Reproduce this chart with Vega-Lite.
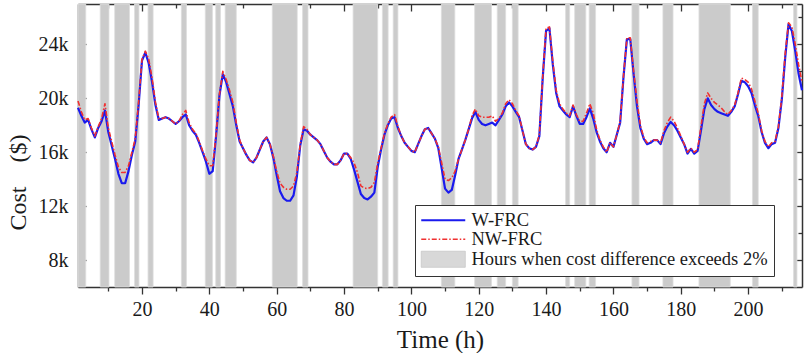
{
  "$schema": "https://vega.github.io/schema/vega-lite/v6.json",
  "width": 724,
  "height": 283,
  "autosize": {"type": "none"},
  "padding": {"left": 78, "top": 4, "right": 6, "bottom": 66},
  "background": "white",
  "view": {"stroke": null},
  "config": {
    "axis": {"grid": false, "domainColor": "#333", "tickColor": "#333", "domainWidth": 1.5, "tickWidth": 1.3, "zindex": 1, "labelFont": "Liberation Serif", "titleFont": "Liberation Serif", "labelColor": "#1a1a1a", "titleColor": "#1a1a1a", "titleFontWeight": "normal"}
  },
  "datasets": {
    "bands": [
      {"s": 1, "e": 3.3}, {"s": 7.6, "e": 10.2}, {"s": 11.9, "e": 16.3}, {"s": 17.8, "e": 19.1},
      {"s": 21.8, "e": 23.3}, {"s": 31.7, "e": 33.2}, {"s": 38.8, "e": 40.9}, {"s": 41.9, "e": 43.3},
      {"s": 44.7, "e": 48}, {"s": 58.7, "e": 66.1}, {"s": 67.7, "e": 69.3}, {"s": 82.7, "e": 90},
      {"s": 91.4, "e": 93.1}, {"s": 94.6, "e": 96}, {"s": 108.9, "e": 112.9}, {"s": 118.8, "e": 123.8},
      {"s": 125.5, "e": 128}, {"s": 130, "e": 131.7}, {"s": 145.8, "e": 147}, {"s": 148.5, "e": 151.8},
      {"s": 152.8, "e": 154.7}, {"s": 165.5, "e": 167.6}, {"s": 174.7, "e": 177.7}, {"s": 185.4, "e": 194.7},
      {"s": 201.3, "e": 203}, {"s": 213.5, "e": 214.5}
    ],
    "rows": [
      {"h":1,"W-FRC":19300,"NW-FRC":19800},{"h":2,"W-FRC":18700,"NW-FRC":19000},{"h":3,"W-FRC":18200,"NW-FRC":18400},{"h":4,"W-FRC":18400,"NW-FRC":18500},
      {"h":5,"W-FRC":17700,"NW-FRC":17800},{"h":6,"W-FRC":17100,"NW-FRC":17200},{"h":7,"W-FRC":17800,"NW-FRC":17900},{"h":8,"W-FRC":18300,"NW-FRC":18500},
      {"h":9,"W-FRC":19100,"NW-FRC":19600},{"h":10,"W-FRC":17500,"NW-FRC":17800},{"h":11,"W-FRC":16500,"NW-FRC":16800},{"h":12,"W-FRC":15500,"NW-FRC":15800},
      {"h":13,"W-FRC":14400,"NW-FRC":14900},{"h":14,"W-FRC":13700,"NW-FRC":14500},{"h":15,"W-FRC":13700,"NW-FRC":14500},{"h":16,"W-FRC":14600,"NW-FRC":15000},
      {"h":17,"W-FRC":15800,"NW-FRC":16000},{"h":18,"W-FRC":16800,"NW-FRC":17000},{"h":19,"W-FRC":19500,"NW-FRC":19700},{"h":20,"W-FRC":22800,"NW-FRC":22900},
      {"h":21,"W-FRC":23400,"NW-FRC":23500},{"h":22,"W-FRC":22600,"NW-FRC":22900},{"h":23,"W-FRC":21200,"NW-FRC":21500},{"h":24,"W-FRC":19500,"NW-FRC":19700},
      {"h":25,"W-FRC":18400,"NW-FRC":18500},{"h":26,"W-FRC":18500,"NW-FRC":18500},{"h":27,"W-FRC":18600,"NW-FRC":18600},{"h":28,"W-FRC":18500,"NW-FRC":18500},
      {"h":29,"W-FRC":18300,"NW-FRC":18300},{"h":30,"W-FRC":18100,"NW-FRC":18100},{"h":31,"W-FRC":18300,"NW-FRC":18300},{"h":32,"W-FRC":18600,"NW-FRC":18800},
      {"h":33,"W-FRC":18800,"NW-FRC":19100},{"h":34,"W-FRC":18000,"NW-FRC":18200},{"h":35,"W-FRC":17600,"NW-FRC":17700},{"h":36,"W-FRC":17300,"NW-FRC":17400},
      {"h":37,"W-FRC":16700,"NW-FRC":16800},{"h":38,"W-FRC":16000,"NW-FRC":16100},{"h":39,"W-FRC":15300,"NW-FRC":15500},{"h":40,"W-FRC":14400,"NW-FRC":15000},
      {"h":41,"W-FRC":14600,"NW-FRC":15000},{"h":42,"W-FRC":17200,"NW-FRC":17300},{"h":43,"W-FRC":20200,"NW-FRC":20300},{"h":44,"W-FRC":21800,"NW-FRC":22000},
      {"h":45,"W-FRC":21200,"NW-FRC":21400},{"h":46,"W-FRC":20300,"NW-FRC":20600},{"h":47,"W-FRC":19400,"NW-FRC":19700},{"h":48,"W-FRC":18000,"NW-FRC":18200},
      {"h":49,"W-FRC":16800,"NW-FRC":16900},{"h":50,"W-FRC":16300,"NW-FRC":16300},{"h":51,"W-FRC":15800,"NW-FRC":15800},{"h":52,"W-FRC":15400,"NW-FRC":15400},
      {"h":53,"W-FRC":15250,"NW-FRC":15250},{"h":54,"W-FRC":15600,"NW-FRC":15600},{"h":55,"W-FRC":16200,"NW-FRC":16200},{"h":56,"W-FRC":16800,"NW-FRC":16800},
      {"h":57,"W-FRC":17100,"NW-FRC":17100},{"h":58,"W-FRC":16600,"NW-FRC":16600},{"h":59,"W-FRC":15600,"NW-FRC":15700},{"h":60,"W-FRC":14300,"NW-FRC":14600},
      {"h":61,"W-FRC":13100,"NW-FRC":13700},{"h":62,"W-FRC":12600,"NW-FRC":13400},{"h":63,"W-FRC":12400,"NW-FRC":13250},{"h":64,"W-FRC":12400,"NW-FRC":13250},
      {"h":65,"W-FRC":12800,"NW-FRC":13500},{"h":66,"W-FRC":14200,"NW-FRC":14500},{"h":67,"W-FRC":16500,"NW-FRC":16600},{"h":68,"W-FRC":17700,"NW-FRC":17900},
      {"h":69,"W-FRC":17600,"NW-FRC":17700},{"h":70,"W-FRC":17300,"NW-FRC":17300},{"h":71,"W-FRC":17100,"NW-FRC":17100},{"h":72,"W-FRC":16900,"NW-FRC":16900},
      {"h":73,"W-FRC":16600,"NW-FRC":16600},{"h":74,"W-FRC":16100,"NW-FRC":16100},{"h":75,"W-FRC":15600,"NW-FRC":15600},{"h":76,"W-FRC":15300,"NW-FRC":15300},
      {"h":77,"W-FRC":15100,"NW-FRC":15100},{"h":78,"W-FRC":15100,"NW-FRC":15100},{"h":79,"W-FRC":15400,"NW-FRC":15400},{"h":80,"W-FRC":15900,"NW-FRC":15900},
      {"h":81,"W-FRC":15900,"NW-FRC":15900},{"h":82,"W-FRC":15500,"NW-FRC":15600},{"h":83,"W-FRC":14700,"NW-FRC":15200},{"h":84,"W-FRC":13800,"NW-FRC":14500},
      {"h":85,"W-FRC":12900,"NW-FRC":13500},{"h":86,"W-FRC":12600,"NW-FRC":13350},{"h":87,"W-FRC":12500,"NW-FRC":13300},{"h":88,"W-FRC":12700,"NW-FRC":13400},
      {"h":89,"W-FRC":13000,"NW-FRC":13750},{"h":90,"W-FRC":14900,"NW-FRC":15200},{"h":91,"W-FRC":16200,"NW-FRC":16300},{"h":92,"W-FRC":17300,"NW-FRC":17400},
      {"h":93,"W-FRC":18000,"NW-FRC":18100},{"h":94,"W-FRC":18500,"NW-FRC":18600},{"h":95,"W-FRC":18600,"NW-FRC":18800},{"h":96,"W-FRC":17800,"NW-FRC":17900},
      {"h":97,"W-FRC":17200,"NW-FRC":17200},{"h":98,"W-FRC":16700,"NW-FRC":16700},{"h":99,"W-FRC":16400,"NW-FRC":16400},{"h":100,"W-FRC":16100,"NW-FRC":16100},
      {"h":101,"W-FRC":16000,"NW-FRC":16000},{"h":102,"W-FRC":16600,"NW-FRC":16600},{"h":103,"W-FRC":17200,"NW-FRC":17200},{"h":104,"W-FRC":17700,"NW-FRC":17700},
      {"h":105,"W-FRC":17800,"NW-FRC":17800},{"h":106,"W-FRC":17400,"NW-FRC":17400},{"h":107,"W-FRC":17000,"NW-FRC":17000},{"h":108,"W-FRC":16300,"NW-FRC":16400},
      {"h":109,"W-FRC":14800,"NW-FRC":15200},{"h":110,"W-FRC":13300,"NW-FRC":14000},{"h":111,"W-FRC":13000,"NW-FRC":13900},{"h":112,"W-FRC":13200,"NW-FRC":14100},
      {"h":113,"W-FRC":14300,"NW-FRC":14600},{"h":114,"W-FRC":15500,"NW-FRC":15500},{"h":115,"W-FRC":16200,"NW-FRC":16200},{"h":116,"W-FRC":16900,"NW-FRC":16900},
      {"h":117,"W-FRC":17700,"NW-FRC":17700},{"h":118,"W-FRC":18500,"NW-FRC":18700},{"h":119,"W-FRC":19000,"NW-FRC":19200},{"h":120,"W-FRC":18400,"NW-FRC":18700},
      {"h":121,"W-FRC":18100,"NW-FRC":18600},{"h":122,"W-FRC":18000,"NW-FRC":18600},{"h":123,"W-FRC":18100,"NW-FRC":18600},{"h":124,"W-FRC":18200,"NW-FRC":18700},
      {"h":125,"W-FRC":18000,"NW-FRC":18300},{"h":126,"W-FRC":18400,"NW-FRC":18500},{"h":127,"W-FRC":18800,"NW-FRC":18900},{"h":128,"W-FRC":19400,"NW-FRC":19600},
      {"h":129,"W-FRC":19700,"NW-FRC":19900},{"h":130,"W-FRC":19400,"NW-FRC":19600},{"h":131,"W-FRC":19000,"NW-FRC":19100},{"h":132,"W-FRC":18600,"NW-FRC":18700},
      {"h":133,"W-FRC":17600,"NW-FRC":17600},{"h":134,"W-FRC":16600,"NW-FRC":16600},{"h":135,"W-FRC":16300,"NW-FRC":16300},{"h":136,"W-FRC":16200,"NW-FRC":16200},
      {"h":137,"W-FRC":16400,"NW-FRC":16400},{"h":138,"W-FRC":17200,"NW-FRC":17300},{"h":139,"W-FRC":21500,"NW-FRC":21600},{"h":140,"W-FRC":25000,"NW-FRC":25200},
      {"h":141,"W-FRC":25200,"NW-FRC":25300},{"h":142,"W-FRC":22500,"NW-FRC":22700},{"h":143,"W-FRC":20400,"NW-FRC":20600},{"h":144,"W-FRC":19400,"NW-FRC":19600},
      {"h":145,"W-FRC":19100,"NW-FRC":19200},{"h":146,"W-FRC":18800,"NW-FRC":18900},{"h":147,"W-FRC":18600,"NW-FRC":18700},{"h":148,"W-FRC":19400,"NW-FRC":19500},
      {"h":149,"W-FRC":18700,"NW-FRC":18800},{"h":150,"W-FRC":18100,"NW-FRC":18300},{"h":151,"W-FRC":18100,"NW-FRC":18300},{"h":152,"W-FRC":18600,"NW-FRC":18900},
      {"h":153,"W-FRC":19250,"NW-FRC":19600},{"h":154,"W-FRC":18500,"NW-FRC":18900},{"h":155,"W-FRC":17500,"NW-FRC":17700},{"h":156,"W-FRC":16800,"NW-FRC":16900},
      {"h":157,"W-FRC":16300,"NW-FRC":16400},{"h":158,"W-FRC":16000,"NW-FRC":16000},{"h":159,"W-FRC":16700,"NW-FRC":16700},{"h":160,"W-FRC":16400,"NW-FRC":16400},
      {"h":161,"W-FRC":17300,"NW-FRC":17300},{"h":162,"W-FRC":18200,"NW-FRC":18300},{"h":163,"W-FRC":21600,"NW-FRC":21700},{"h":164,"W-FRC":24400,"NW-FRC":24500},
      {"h":165,"W-FRC":24400,"NW-FRC":24500},{"h":166,"W-FRC":21800,"NW-FRC":22000},{"h":167,"W-FRC":19400,"NW-FRC":19800},{"h":168,"W-FRC":17800,"NW-FRC":18000},
      {"h":169,"W-FRC":17000,"NW-FRC":17100},{"h":170,"W-FRC":16600,"NW-FRC":16700},{"h":171,"W-FRC":16700,"NW-FRC":16800},{"h":172,"W-FRC":16900,"NW-FRC":16900},
      {"h":173,"W-FRC":16900,"NW-FRC":16900},{"h":174,"W-FRC":16600,"NW-FRC":16700},{"h":175,"W-FRC":17400,"NW-FRC":17600},{"h":176,"W-FRC":17900,"NW-FRC":18200},
      {"h":177,"W-FRC":18250,"NW-FRC":18600},{"h":178,"W-FRC":18000,"NW-FRC":18300},{"h":179,"W-FRC":17600,"NW-FRC":17800},{"h":180,"W-FRC":17100,"NW-FRC":17200},
      {"h":181,"W-FRC":16600,"NW-FRC":16600},{"h":182,"W-FRC":15900,"NW-FRC":16000},{"h":183,"W-FRC":16250,"NW-FRC":16300},{"h":184,"W-FRC":15900,"NW-FRC":16000},
      {"h":185,"W-FRC":16100,"NW-FRC":16200},{"h":186,"W-FRC":17600,"NW-FRC":17900},{"h":187,"W-FRC":19200,"NW-FRC":19600},{"h":188,"W-FRC":20000,"NW-FRC":20400},
      {"h":189,"W-FRC":19500,"NW-FRC":20000},{"h":190,"W-FRC":19200,"NW-FRC":19700},{"h":191,"W-FRC":19000,"NW-FRC":19500},{"h":192,"W-FRC":18900,"NW-FRC":19300},
      {"h":193,"W-FRC":18800,"NW-FRC":19000},{"h":194,"W-FRC":18700,"NW-FRC":18800},{"h":195,"W-FRC":19000,"NW-FRC":19100},{"h":196,"W-FRC":19400,"NW-FRC":19500},
      {"h":197,"W-FRC":20300,"NW-FRC":20400},{"h":198,"W-FRC":21300,"NW-FRC":21500},{"h":199,"W-FRC":21200,"NW-FRC":21400},{"h":200,"W-FRC":20900,"NW-FRC":21200},
      {"h":201,"W-FRC":20400,"NW-FRC":20700},{"h":202,"W-FRC":19500,"NW-FRC":19800},{"h":203,"W-FRC":18700,"NW-FRC":18900},{"h":204,"W-FRC":17500,"NW-FRC":17600},
      {"h":205,"W-FRC":16700,"NW-FRC":16800},{"h":206,"W-FRC":16300,"NW-FRC":16400},{"h":207,"W-FRC":16600,"NW-FRC":16700},{"h":208,"W-FRC":16700,"NW-FRC":16800},
      {"h":209,"W-FRC":17800,"NW-FRC":17900},{"h":210,"W-FRC":19900,"NW-FRC":20100},{"h":211,"W-FRC":23000,"NW-FRC":23300},{"h":212,"W-FRC":25500,"NW-FRC":25600},
      {"h":213,"W-FRC":25000,"NW-FRC":25300},{"h":214,"W-FRC":23500,"NW-FRC":24000},{"h":215,"W-FRC":21800,"NW-FRC":22500},{"h":216,"W-FRC":20600,"NW-FRC":21200}
    ]
  },
  "resolve": {"axis": {"x": "independent", "y": "independent"}},
  "layer": [
    {
      "data": {"name": "bands"},
      "mark": {"type": "rect", "fill": "#cbcbcb", "stroke": "#dddddd", "strokeWidth": 0.8},
      "encoding": {
        "x": {"field": "s", "type": "quantitative", "scale": {"domain": [1, 216], "nice": false, "zero": false}, "axis": null},
        "x2": {"field": "e"}
      }
    },
    {
      "data": {"name": "rows"},
      "transform": [{"fold": ["W-FRC"], "as": ["series", "cost"]}],
      "mark": {"type": "line", "strokeJoin": "round", "strokeWidth": 2.2},
      "encoding": {
        "x": {"field": "h", "type": "quantitative", "scale": {"domain": [1, 216], "nice": false, "zero": false},
          "axis": {"orient": "bottom", "values": [20, 40, 60, 80, 100, 120, 140, 160, 180, 200], "format": "d", "tickSize": 7, "labelFontSize": 20, "labelPadding": 5, "labelFlush": false, "labelOverlap": false, "title": "Time (h)", "titleFontSize": 25, "titlePadding": 8}},
        "y": {"field": "cost", "type": "quantitative", "scale": {"domain": [6000, 27000], "nice": false, "zero": false},
          "axis": {"orient": "left", "values": [8000, 12000, 16000, 20000, 24000], "format": "~s", "ticks": false, "labelFontSize": 20, "labelPadding": 10, "labelFlush": false, "labelOverlap": false,
            "title": "Cost\u00a0\u00a0\u00a0\u00a0($)", "titleFontSize": 24, "titleAngle": 270, "titleX": -60, "titleY": 178, "titleBaseline": "middle", "titleAlign": "center"}},
        "color": {"field": "series", "type": "nominal",
          "scale": {"domain": ["W-FRC", "NW-FRC", "Hours when cost difference exceeds 2%"], "range": ["#1a1aee", "#f03030", "#cbcbcb"]},
          "legend": {"orient": "none", "legendX": 337, "legendY": 201, "title": null, "padding": 6, "rowPadding": 0,
            "fillColor": "white", "strokeColor": "#333", "labelFont": "Liberation Serif", "labelFontSize": 18.5, "labelColor": "#1a1a1a", "labelLimit": 500,
            "labelExpr": "datum.label + '\u00a0'",
            "symbolSize": 400, "symbolType": "M-2.2,0H2.2", "symbolOffset": 13, "labelOffset": 19, "symbolStrokeWidth": 2,
            "encode": {"symbols": {"update": {
              "shape": {"signal": "datum.value === 'Hours when cost difference exceeds 2%' ? 'M-2.2,-0.8H2.2V0.8H-2.2Z' : 'M-2.2,0H2.2'"},
              "fill": {"signal": "datum.value === 'Hours when cost difference exceeds 2%' ? '#d8d8d8' : 'transparent'"},
              "stroke": {"signal": "datum.value === 'Hours when cost difference exceeds 2%' ? '#c4c4c4' : (datum.value === 'NW-FRC' ? '#f03030' : '#1a1aee')"},
              "strokeDash": {"signal": "datum.value === 'NW-FRC' ? [5, 2, 1.5, 2] : [1, 0]"},
              "strokeWidth": {"signal": "datum.value === 'NW-FRC' ? 1.6 : (datum.value === 'W-FRC' ? 2.2 : 1)"}
            }}}}}
      }
    },
    {
      "data": {"name": "rows"},
      "transform": [{"fold": ["NW-FRC"], "as": ["series", "cost"]}],
      "mark": {"type": "line", "strokeJoin": "round", "strokeWidth": 1.6, "strokeDash": [5, 2, 1.5, 2]},
      "encoding": {
        "x": {"field": "h", "type": "quantitative", "scale": {"domain": [1, 216], "nice": false, "zero": false}, "axis": null},
        "y": {"field": "cost", "type": "quantitative", "scale": {"domain": [6000, 27000], "nice": false, "zero": false}, "axis": null},
        "color": {"field": "series", "type": "nominal"}
      }
    },
    {
      "data": {"name": "rows"},
      "mark": {"type": "line", "opacity": 0},
      "encoding": {
        "x": {"field": "h", "type": "quantitative", "scale": {"domain": [1, 216], "nice": false, "zero": false},
          "axis": {"orient": "bottom", "values": [10, 30, 50, 70, 90, 110, 130, 150, 170, 190, 210], "labels": false, "domain": false, "tickSize": 4, "title": null}},
        "y": {"field": "W-FRC", "type": "quantitative", "scale": {"domain": [6000, 27000], "nice": false, "zero": false},
          "axis": {"orient": "left", "values": [8000, 12000, 16000, 20000, 24000], "labels": false, "domain": false, "tickSize": -8, "title": null}}
      }
    },
    {
      "data": {"name": "rows"},
      "mark": {"type": "line", "opacity": 0},
      "encoding": {
        "x": {"field": "h", "type": "quantitative", "scale": {"domain": [1, 216], "nice": false, "zero": false},
          "axis": {"orient": "top", "values": [20, 40, 60, 80, 100, 120, 140, 160, 180, 200], "labels": false, "tickSize": -7, "title": null}},
        "y": {"field": "W-FRC", "type": "quantitative", "scale": {"domain": [6000, 27000], "nice": false, "zero": false},
          "axis": {"orient": "right", "values": [8000, 12000, 16000, 20000, 24000], "labels": false, "tickSize": -8, "title": null}}
      }
    },
    {
      "data": {"name": "rows"},
      "mark": {"type": "line", "opacity": 0},
      "encoding": {
        "x": {"field": "h", "type": "quantitative", "scale": {"domain": [1, 216], "nice": false, "zero": false},
          "axis": {"orient": "top", "values": [10, 30, 50, 70, 90, 110, 130, 150, 170, 190, 210], "labels": false, "domain": false, "tickSize": -4, "title": null}},
        "y": {"field": "W-FRC", "type": "quantitative", "scale": {"domain": [6000, 27000], "nice": false, "zero": false},
          "axis": {"orient": "right", "values": [10000, 14000, 18000, 22000, 26000], "labels": false, "domain": false, "tickSize": -4, "title": null}}
      }
    },
    {
      "data": {"name": "rows"},
      "mark": {"type": "line", "opacity": 0},
      "encoding": {
        "x": {"field": "h", "type": "quantitative", "scale": {"domain": [1, 216], "nice": false, "zero": false}, "axis": null},
        "y": {"field": "W-FRC", "type": "quantitative", "scale": {"domain": [6000, 27000], "nice": false, "zero": false},
          "axis": {"orient": "left", "values": [10000, 14000, 18000, 22000, 26000], "labels": false, "domain": false, "tickSize": -4, "title": null}}
      }
    }
  ]
}
